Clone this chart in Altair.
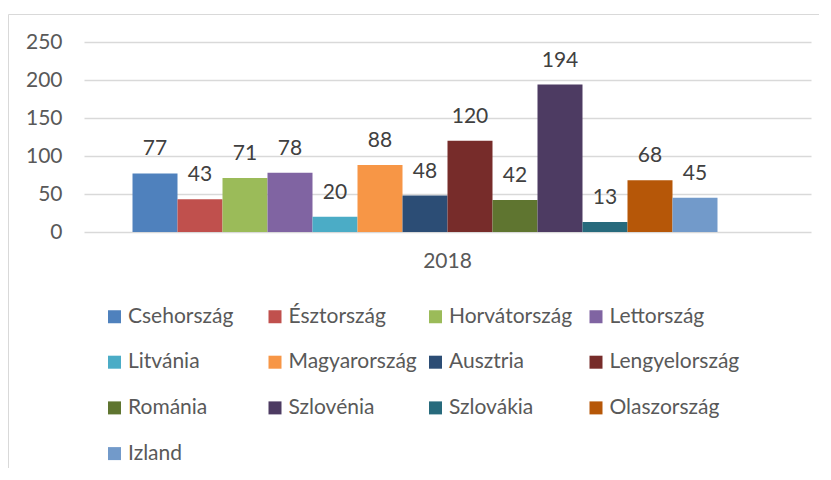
import altair as alt
import pandas as pd

countries = ["Csehország", "Észtország", "Horvátország", "Lettország",
             "Litvánia", "Magyarország", "Ausztria", "Lengyelország",
             "Románia", "Szlovénia", "Szlovákia", "Olaszország", "Izland"]
values = [77, 43, 71, 78, 20, 88, 48, 120, 42, 194, 13, 68, 45]
colors = ["#4F81BD", "#C0504D", "#9BBB59", "#8064A2", "#4BACC6", "#F79646",
          "#2C4D75", "#772C2A", "#5F7530", "#4D3B62", "#276A7C", "#B65708",
          "#729ACA"]
year = "2018"
y_ticks = [0, 50, 100, 150, 200, 250]

FONT = "Lato"
FS = 21

df = pd.DataFrame({"year": [year] * len(countries), "country": countries, "value": values})
# Excel leaves room for one extra (empty) slot in the cluster
slots = countries + ["\u200b"]

base = alt.Chart(df).encode(
    x=alt.X("year:N",
            scale=alt.Scale(paddingInner=0, paddingOuter=0.077),
            axis=alt.Axis(title=None, labelAngle=0, ticks=False, tickSize=0, domain=False,
                          labelPadding=18, labelFontSize=FS, labelColor="#595959",
                          labelFont=FONT, grid=False)),
    xOffset=alt.XOffset("country:N", scale=alt.Scale(domain=slots, paddingInner=0, paddingOuter=0)),
    y=alt.Y("value:Q",
            scale=alt.Scale(domain=[0, 250], nice=False),
            axis=alt.Axis(values=y_ticks, title=None, ticks=False, tickSize=0, domain=False,
                          labelPadding=22, labelFontSize=FS, labelColor="#595959",
                          labelFont=FONT, gridColor="#D9D9D9", gridWidth=1.5)),
)

bars = base.mark_bar().encode(
    color=alt.Color("country:N",
                    scale=alt.Scale(domain=countries, range=colors),
                    legend=alt.Legend(title=None, orient="none", legendX=20, legendY=264,
                                      direction="horizontal",
                                      columns=4, symbolType="square", symbolSize=169,
                                      symbolStrokeWidth=0, labelFontSize=FS,
                                      labelColor="#595959", labelFont=FONT,
                                      rowPadding=23.7, columnPadding=6.5, labelOffset=3,
                                      gridAlign="all", symbolOpacity=1))
)

labels = base.mark_text(baseline="alphabetic", dy=-18, font=FONT, fontSize=FS,
                        color="#404040").encode(text=alt.Text("value:Q"))

frame_df = pd.DataFrame({"k": [0]})
top_border = alt.Chart(frame_df).mark_rule(color="#D9D9D9", strokeWidth=1).encode(
    x=alt.value(-75.5), x2=alt.value(800), y=alt.value(-27.5))
left_border = alt.Chart(frame_df).mark_rule(color="#D9D9D9", strokeWidth=1).encode(
    x=alt.value(-75.5), y=alt.value(-27.5), y2=alt.value(500))

chart = alt.layer(bars, labels, top_border, left_border).properties(
    width=727, height=190,
    padding={"left": 76, "top": 34, "right": 8, "bottom": 236},
    autosize=alt.AutoSizeParams(type="none"),
).configure_view(stroke=None)

chart.save("out.html", embed_options={"renderer": "svg", "actions": False})
